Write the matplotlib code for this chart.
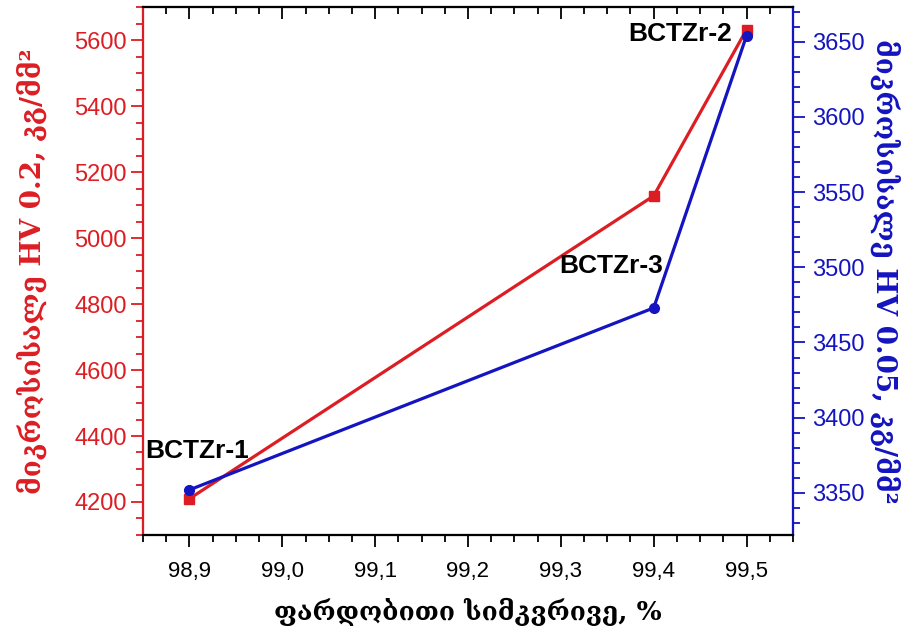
import matplotlib
matplotlib.use("Agg")
import matplotlib.pyplot as plt
from matplotlib.ticker import MultipleLocator, FuncFormatter

density = [98.9, 99.4, 99.5]
hv02 = [4210, 5128, 5632]
hv005 = [3352, 3473, 3654]
sample_names = ["BCTZr-1", "BCTZr-3", "BCTZr-2"]

red = "#dc1e24"
blue = "#1414c0"

fig = plt.figure(figsize=(9.18, 6.39), dpi=100)
ax = fig.add_axes([0.1558, 0.1628, 0.708, 0.826])
ax2 = ax.twinx()
ax3 = ax.twiny()   # only for the inward ticks on top

ax.plot(density, hv02, color=red, lw=2.3, marker="s", ms=7, zorder=3)
ax2.plot(density, hv005, color=blue, lw=2.3, marker="o", ms=7, zorder=3)

ax.set_xlim(98.85, 99.55)
ax3.set_xlim(98.85, 99.55)
ax.set_ylim(4100, 5700)
ax2.set_ylim(3322, 3673)

for a in (ax, ax3):
    a.xaxis.set_major_locator(MultipleLocator(0.1))
    a.xaxis.set_minor_locator(MultipleLocator(0.025))
ax.xaxis.set_major_formatter(FuncFormatter(lambda v, p: f"{v:.1f}".replace(".", ",")))
ax.yaxis.set_major_locator(MultipleLocator(200))
ax.yaxis.set_minor_locator(MultipleLocator(50))
ax2.yaxis.set_major_locator(MultipleLocator(50))
ax2.yaxis.set_minor_locator(MultipleLocator(10))

for a in (ax, ax2):
    a.tick_params(which="major", length=8.5, width=1.3)
    a.tick_params(which="minor", length=5, width=1.3)
ax.tick_params(axis="x", which="both", direction="out", colors="black",
               labelsize=16, pad=10)
ax.tick_params(axis="y", which="both", direction="out", colors=red, labelsize=17, pad=3)
ax2.tick_params(axis="y", which="both", direction="out", colors=blue, labelsize=17, pad=5)

ax3.xaxis.set_ticks_position("top")
ax3.tick_params(axis="x", which="major", direction="in", length=8.5, width=1.3,
                top=True, bottom=False, labeltop=False, labelbottom=False, color="black")
ax3.tick_params(axis="x", which="minor", direction="in", length=5, width=1.3,
                top=True, bottom=False, labeltop=False, labelbottom=False, color="black")

for lab in ax.get_xticklabels():
    lab.set_family(["Liberation Sans Narrow", "Liberation Sans"])
for lab in ax.get_yticklabels() + ax2.get_yticklabels():
    lab.set_family(["Liberation Sans", "DejaVu Sans"])

for a in (ax, ax2, ax3):
    a.spines["left"].set_color(red)
    a.spines["right"].set_color(blue)
    a.spines["top"].set_color("black")
    a.spines["bottom"].set_color("black")
    for s in a.spines.values():
        s.set_linewidth(1.5)

geo_font = ["DejaVu Serif", "DejaVu Sans"]
ax.set_xlabel("ფარდობითი სიმკვრივე, %", fontsize=19, fontweight="bold",
              family=geo_font, labelpad=12)
ax.set_ylabel("მიკროსისალე HV 0.2, კგ/მმ²", fontsize=20, fontweight="bold",
              family=geo_font, color=red, labelpad=20)
ax2.set_ylabel("მიკროსისალე HV 0.05, კგ/მმ²", fontsize=20, fontweight="bold",
               family=geo_font, color=blue, rotation=270, labelpad=26)

label_x = [98.852, 99.41, 99.484]
label_y = [4354, 4915, 5618]
label_ha = ["left", "right", "right"]
for x, y, ha, name in zip(label_x, label_y, label_ha, sample_names):
    ax.text(x, y, name, ha=ha, va="center", fontsize=19, fontweight="bold",
            family=["Liberation Sans", "DejaVu Sans"], zorder=5)

fig.savefig("out.png", dpi=100)
